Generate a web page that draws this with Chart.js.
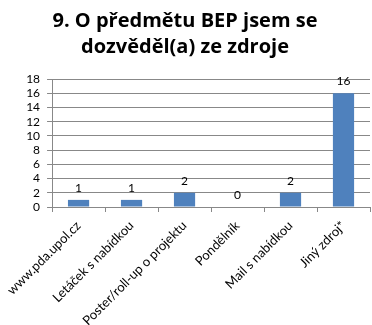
<!DOCTYPE html>
<html><head><meta charset="utf-8">
<script src="https://cdn.jsdelivr.net/npm/chart.js@4"></script>
<style>html,body{margin:0;padding:0;background:#fff}#w{width:372px;height:325px}</style>
</head><body><div id="w"><canvas id="c"></canvas></div>
<script>
const categories = ['www.pda.upol.cz','Letáček s nabídkou','Poster/roll-up o projektu','Pondělník','Mail s nabídkou','Jiný zdroj*'];
const values = [1,1,2,0,2,16];
const titleLines = ['9. O předmětu BEP jsem se','dozvěděl(a) ze zdroje'];
const yMin = 0, yMax = 18, yStep = 2;

const FONT = 'Lato, "Liberation Sans", sans-serif';
const valueLabels = {
  id:'valueLabels',
  afterDatasetsDraw(chart){
    const ctx = chart.ctx;
    const meta = chart.getDatasetMeta(0);
    ctx.save();
    ctx.font = '12px ' + FONT;
    ctx.fillStyle = '#000';
    ctx.textAlign = 'center';
    ctx.textBaseline = 'middle';
    meta.data.forEach((bar,i)=>{
      ctx.fillText(String(values[i]), bar.x, bar.y - 12);
    });
    ctx.restore();
  }
};
new Chart(document.getElementById('c'),{
  type:'bar',
  data:{labels:categories,datasets:[{data:values,backgroundColor:'#4F81BD',barPercentage:0.4,categoryPercentage:1}]},
  options:{
    responsive:true,maintainAspectRatio:false,animation:false,
    layout:{padding:{left:0,right:2,top:0,bottom:0}},
    plugins:{
      legend:{display:false},tooltip:{enabled:false},
      title:{display:true,text:titleLines,color:'#000',font:{family:'"Open Sans", sans-serif',size:20,weight:'bold',lineHeight:'26px'},padding:{top:8,bottom:19}}
    },
    scales:{
      x:{grid:{offset:true,drawOnChartArea:false,color:'#888',tickLength:5},border:{color:'#888'},
         ticks:{color:'#000',font:{family:FONT,size:13},minRotation:45,maxRotation:45,padding:6,autoSkip:false},
         afterFit(s){s.height=118;}},
      y:{min:yMin,max:yMax,ticks:{stepSize:yStep,color:'#000',font:{family:FONT,size:12},padding:7,autoSkip:false},
         grid:{color:'#888',tickLength:5},border:{color:'#888'},
         afterFit(s){s.width=42;}}
    }
  },
  plugins:[valueLabels]
});
</script></body></html>
